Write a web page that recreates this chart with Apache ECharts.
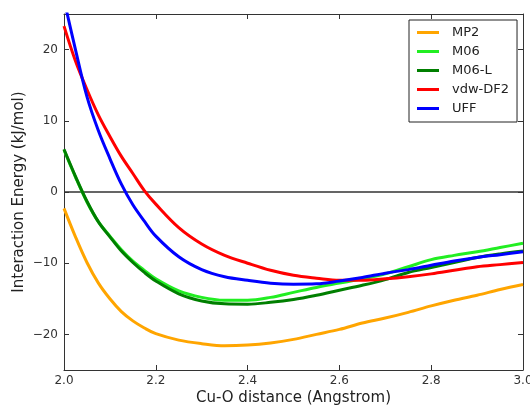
<!DOCTYPE html>
<html><head><meta charset="utf-8">
<script src="https://cdn.jsdelivr.net/npm/echarts@6/dist/echarts.min.js"></script>
<style>html,body{margin:0;padding:0;background:#fff}#c{width:530px;height:407px}</style>
</head><body><div id="c"></div>
<script>
const distances = [2.000,2.025,2.050,2.075,2.100,2.125,2.150,2.175,2.200,2.250,2.300,2.350,2.400,2.450,2.500,2.550,2.600,2.650,2.700,2.750,2.800,2.850,2.900,2.950,3.000];
const mp2   = [-2.3,-6.3,-9.9,-12.8,-15.0,-16.8,-18.1,-19.1,-19.9,-20.8,-21.3,-21.6,-21.5,-21.2,-20.7,-20.0,-19.3,-18.4,-17.7,-16.9,-16.0,-15.2,-14.5,-13.7,-13.0];
const m06   = [5.9,2.1,-1.4,-4.2,-6.2,-8.1,-9.7,-11.0,-12.2,-13.9,-14.8,-15.2,-15.2,-14.8,-14.1,-13.4,-12.8,-12.2,-11.5,-10.5,-9.5,-8.9,-8.4,-7.8,-7.2];
const m06l  = [6.0,2.2,-1.3,-4.2,-6.3,-8.3,-9.9,-11.3,-12.5,-14.3,-15.3,-15.7,-15.75,-15.5,-15.1,-14.5,-13.8,-13.1,-12.3,-11.3,-10.6,-9.9,-9.2,-8.7,-8.3];
const vdw   = [23.3,18.4,14.4,10.8,7.8,5.0,2.6,0.2,-1.7,-5.0,-7.3,-8.9,-10.0,-11.0,-11.7,-12.1,-12.4,-12.4,-12.2,-11.9,-11.5,-11.0,-10.5,-10.2,-9.9];
const uff   = [27.0,20.0,13.4,8.6,4.7,1.1,-1.8,-4.1,-6.2,-9.1,-10.9,-11.9,-12.4,-12.8,-12.95,-12.9,-12.5,-12.0,-11.4,-10.9,-10.3,-9.7,-9.2,-8.8,-8.4];
const seriesNames = ['MP2','M06','M06-L','vdw-DF2','UFF'];
const seriesColors = ['#FFA500','#22EE22','#007F00','#FF0000','#0000FF'];
const xTicks = [2.0,2.2,2.4,2.6,2.8,3.0];
const yTicks = [-20,-10,0,10,20];

const values = [mp2,m06,m06l,vdw,uff];
const font = 'DejaVu Sans';
const chart = echarts.init(document.getElementById('c'), null, {renderer:'canvas'});
const fmtY = v => (v < 0 ? '\u2212' + Math.abs(v) : String(v));
const frame = {show:true, onZero:false, lineStyle:{color:'#333', width:1}};
const tick = {show:true, inside:true, length:5, lineStyle:{color:'#333'}};
const lineSeries = seriesNames.map((name,i)=>({
  name, type:'line', xAxisIndex:0, yAxisIndex:0,
  data: distances.map((x,j)=>[x, values[i][j]]),
  smooth:0.35, showSymbol:false, symbol:'none', clip:true,
  lineStyle:{color:seriesColors[i], width:3},
  itemStyle:{color:seriesColors[i]},
  z: 2+i
}));
lineSeries.push({
  name:'zero', type:'line', xAxisIndex:1, yAxisIndex:1,
  data: xTicks.map(x=>[x, 0]),
  showSymbol:false, symbol:'none', silent:true,
  lineStyle:{color:'#333', width:1.5},
  z:1
});
chart.setOption({
  backgroundColor:'#fff',
  animation:false,
  grid:{left:64, right:7, top:14, bottom:37, containLabel:false, outerBoundsMode:'none'},
  legend:{
    orient:'vertical', left:409, top:20, width:107,
    padding:[6,8,7,8], borderColor:'#222', borderWidth:1, backgroundColor:'#fff',
    itemWidth:22, itemHeight:3, itemGap:6, icon:'rect',
    textStyle:{fontFamily:font, fontSize:13, color:'#222', padding:[0,0,0,8]},
    data: seriesNames
  },
  xAxis:[{
    type:'value', min:2.0, max:3.0, interval:0.2, position:'bottom',
    name:'Cu-O distance (Angstrom)', nameLocation:'middle', nameGap:21, nameMoveOverlap:false,
    nameTextStyle:{fontFamily:font, fontSize:15, color:'#222'},
    axisLine:frame, axisTick:tick,
    axisLabel:{fontFamily:font, fontSize:12, color:'#333', margin:5, formatter:v=>v.toFixed(1)},
    splitLine:{show:false}
  },{
    type:'value', min:2.0, max:3.0, interval:0.2, position:'top',
    axisLine:frame, axisTick:tick,
    axisLabel:{show:false}, splitLine:{show:false}
  }],
  yAxis:[{
    type:'value', min:-25, max:25, position:'left',
    name:'Interaction Energy (kJ/mol)', nameLocation:'middle', nameGap:37, nameMoveOverlap:false,
    nameTextStyle:{fontFamily:font, fontSize:15, color:'#222'},
    axisLine:frame,
    axisTick:Object.assign({customValues:yTicks}, tick),
    axisLabel:{fontFamily:font, fontSize:12, color:'#333', margin:6, customValues:yTicks, formatter:fmtY},
    splitLine:{show:false}
  },{
    type:'value', min:-25, max:25, position:'right',
    axisLine:frame,
    axisTick:Object.assign({customValues:yTicks}, tick),
    axisLabel:{show:false, customValues:yTicks}, splitLine:{show:false}
  }],
  series: lineSeries
});
</script></body></html>
